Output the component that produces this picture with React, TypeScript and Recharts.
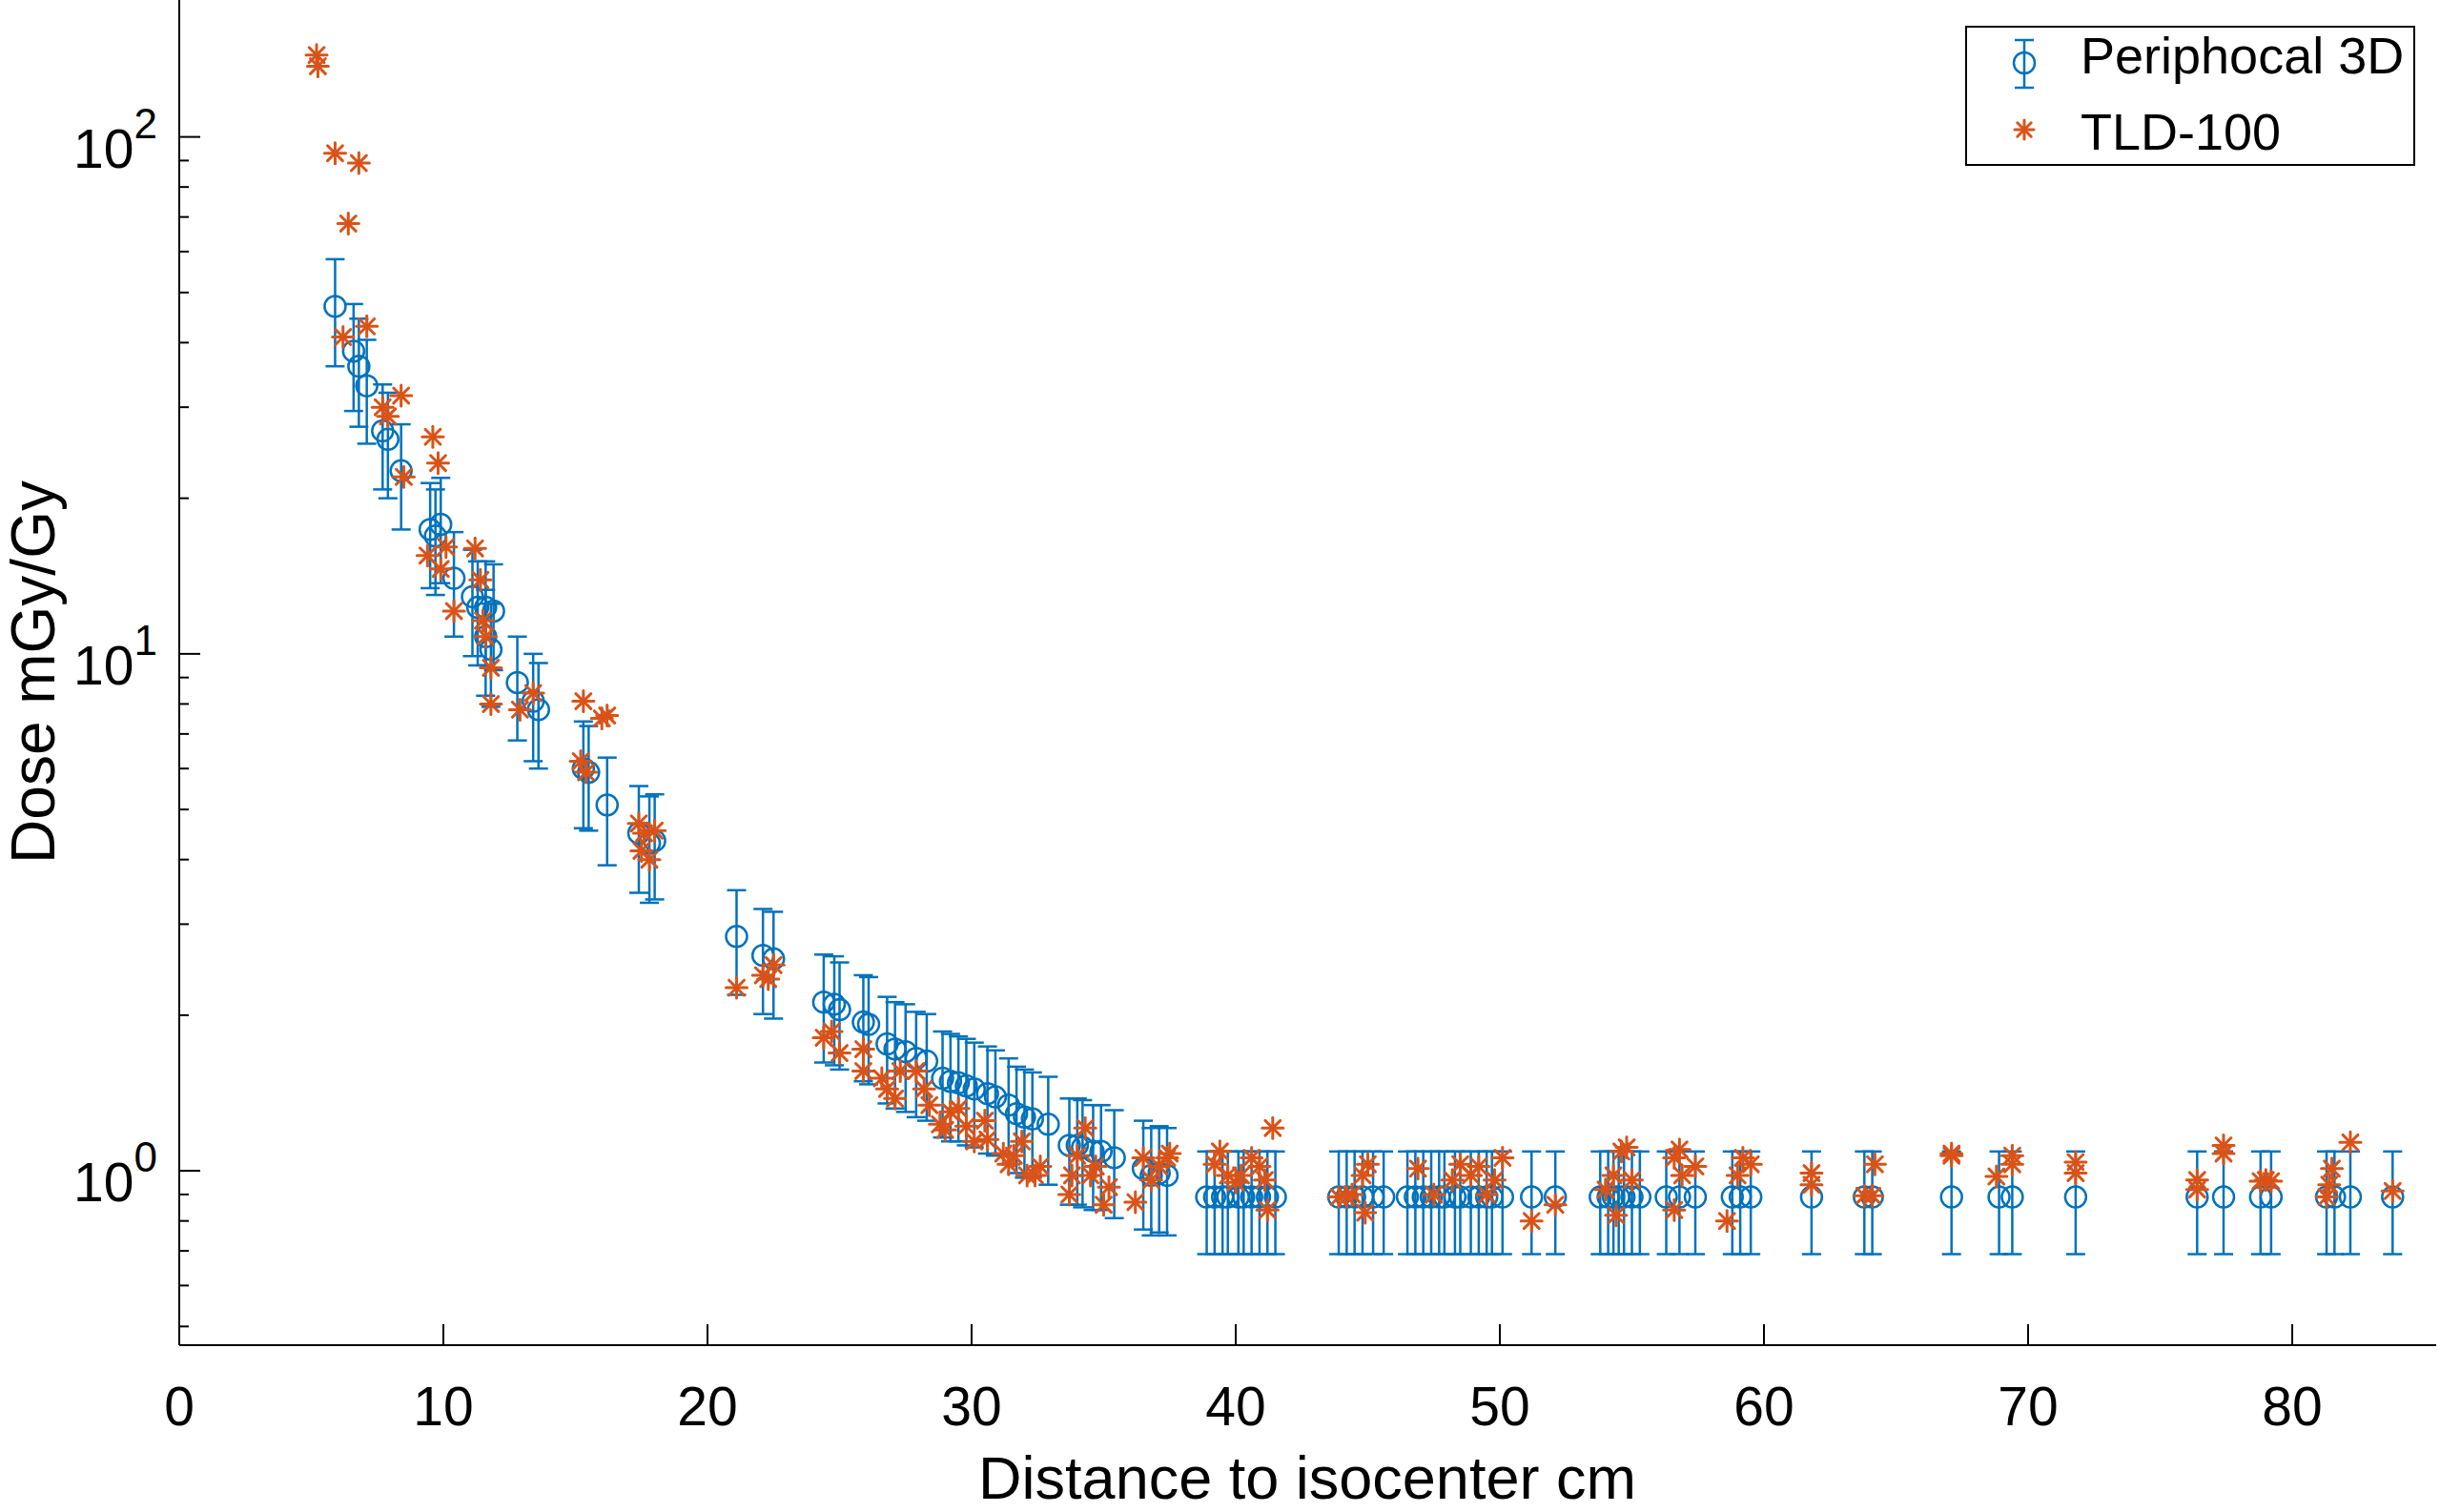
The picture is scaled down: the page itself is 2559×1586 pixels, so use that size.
import { ErrorBar, Scatter, ScatterChart, XAxis, YAxis } from "recharts";

// [distance cm, dose mGy/Gy, error]
const periphocal: [number, number, number][] = [
  [5.9, 47, 11], [6.6, 38.5, 9], [6.8, 36, 8.5], [7.1, 33, 7.5], [7.7, 27, 6.2],
  [7.9, 26, 6], [8.4, 22.6, 5.2], [9.5, 17.4, 4], [9.7, 16.9, 3.9], [9.9, 17.8, 4.1],
  [10.4, 14, 3.2], [11.1, 12.9, 3], [11.3, 12.3, 2.8], [11.6, 12.3, 2.8], [11.9, 12.1, 2.8],
  [11.6, 10.8, 2.5], [11.8, 10.2, 2.3], [12.8, 8.8, 2], [13.4, 8.1, 1.9], [13.6, 7.8, 1.8],
  [15.3, 6.0, 1.4], [15.5, 5.9, 1.35], [16.2, 5.1, 1.2], [17.4, 4.5, 1.05], [17.8, 4.3, 1],
  [18.0, 4.35, 1], [21.1, 2.84, 0.65], [22.1, 2.61, 0.6], [22.5, 2.57, 0.6], [24.4, 2.12, 0.5],
  [24.8, 2.1, 0.5], [25.0, 2.05, 0.48], [25.9, 1.94, 0.45], [26.1, 1.92, 0.45], [26.8, 1.76, 0.41],
  [27.1, 1.72, 0.4], [27.5, 1.7, 0.4], [27.9, 1.65, 0.38], [28.3, 1.63, 0.38], [28.9, 1.51, 0.35],
  [29.2, 1.49, 0.35], [29.5, 1.48, 0.34], [29.8, 1.46, 0.34], [30.1, 1.44, 0.33], [30.6, 1.41, 0.33],
  [30.9, 1.39, 0.32], [31.4, 1.34, 0.31], [31.7, 1.29, 0.3], [32.0, 1.27, 0.3], [32.3, 1.26, 0.29],
  [32.9, 1.23, 0.29], [33.7, 1.12, 0.26], [34.0, 1.12, 0.26], [34.2, 1.11, 0.26], [34.6, 1.09, 0.25],
  [34.9, 1.09, 0.25], [35.4, 1.06, 0.25], [36.5, 1.01, 0.24], [36.8, 0.98, 0.23], [37.1, 0.99, 0.23],
  [37.4, 0.98, 0.23],
  [38.9, 0.89, 0.2], [39.2, 0.89, 0.2], [39.5, 0.89, 0.2], [39.7, 0.89, 0.2], [40.1, 0.89, 0.2],
  [40.3, 0.89, 0.2], [40.6, 0.89, 0.2], [40.9, 0.89, 0.2], [41.2, 0.89, 0.2], [41.5, 0.89, 0.2],
  [43.9, 0.89, 0.2], [44.2, 0.89, 0.2], [44.5, 0.89, 0.2], [44.8, 0.89, 0.2], [45.2, 0.89, 0.2],
  [45.6, 0.89, 0.2], [46.5, 0.89, 0.2], [46.8, 0.89, 0.2], [47.1, 0.89, 0.2], [47.4, 0.89, 0.2],
  [47.7, 0.89, 0.2], [47.9, 0.89, 0.2], [48.3, 0.89, 0.2], [48.5, 0.89, 0.2], [48.9, 0.89, 0.2],
  [49.2, 0.89, 0.2], [49.5, 0.89, 0.2], [49.7, 0.89, 0.2], [50.1, 0.89, 0.2], [51.2, 0.89, 0.2],
  [52.1, 0.89, 0.2], [53.8, 0.89, 0.2], [54.1, 0.89, 0.2], [54.3, 0.89, 0.2], [54.5, 0.89, 0.2],
  [54.7, 0.89, 0.2], [55.0, 0.89, 0.2], [55.3, 0.89, 0.2], [56.3, 0.89, 0.2], [56.8, 0.89, 0.2],
  [57.4, 0.89, 0.2], [58.8, 0.89, 0.2], [59.1, 0.89, 0.2], [59.5, 0.89, 0.2], [61.8, 0.89, 0.2],
  [63.8, 0.89, 0.2], [64.1, 0.89, 0.2], [67.1, 0.89, 0.2], [68.9, 0.89, 0.2], [69.4, 0.89, 0.2],
  [71.8, 0.89, 0.2], [76.4, 0.89, 0.2], [77.4, 0.89, 0.2], [78.8, 0.89, 0.2], [79.2, 0.89, 0.2],
  [81.3, 0.89, 0.2], [81.6, 0.89, 0.2], [82.2, 0.89, 0.2], [83.8, 0.89, 0.2],
];

// [distance cm, dose mGy/Gy]
const tld100: [number, number][] = [
  [5.2, 144], [5.25, 137], [5.9, 93], [6.8, 89], [6.4, 68], [6.2, 41], [7.1, 43],
  [7.7, 30], [7.9, 28.8], [8.4, 31.6], [8.5, 22], [9.6, 26.3], [9.8, 23.4], [9.4, 15.5],
  [10.1, 16.1], [9.9, 14.6], [10.4, 12.1], [11.2, 16], [11.4, 13.9], [11.5, 11.6], [11.6, 10.8],
  [11.8, 9.4], [11.8, 8.0], [12.9, 7.8], [13.4, 8.4], [15.3, 8.1], [15.2, 6.2], [15.4, 5.9],
  [16.0, 7.5], [16.2, 7.6], [17.4, 4.7], [17.6, 4.5], [17.5, 4.16], [17.8, 4.0], [18.0, 4.55],
  [21.1, 2.26], [22.1, 2.39], [22.3, 2.35], [22.5, 2.5], [24.4, 1.81], [24.7, 1.86], [25.0, 1.69],
  [25.9, 1.56], [25.9, 1.72], [26.6, 1.51], [26.8, 1.44], [27.1, 1.38], [27.3, 1.56], [27.9, 1.56],
  [28.2, 1.44], [28.4, 1.34], [28.8, 1.23], [29.0, 1.2], [29.2, 1.3], [29.5, 1.32], [29.8, 1.22],
  [30.1, 1.14], [30.5, 1.25], [30.6, 1.15], [31.2, 1.08], [31.4, 1.03], [31.6, 1.07], [31.9, 1.14],
  [32.1, 0.98], [32.4, 0.98], [32.6, 1.02], [33.7, 0.9], [33.8, 0.98], [34.0, 1.07], [34.3, 1.21],
  [34.5, 0.98], [34.7, 1.02], [35.0, 0.86], [35.2, 0.93], [36.2, 0.87], [36.5, 1.06], [36.8, 0.96],
  [37.1, 1.02], [37.4, 1.06], [37.5, 1.08], [39.2, 1.03], [39.4, 1.09], [39.7, 0.98], [40.0, 0.95],
  [40.2, 0.98], [40.6, 1.06], [40.9, 1.02], [41.1, 0.96], [41.4, 1.21], [41.2, 0.84], [43.9, 0.89],
  [44.2, 0.89], [44.4, 0.9], [44.8, 0.98], [45.0, 1.03], [44.9, 0.83], [46.9, 1.01], [47.5, 0.9],
  [48.2, 0.96], [48.5, 1.03], [48.9, 0.98], [49.2, 1.02], [49.5, 0.9], [49.8, 0.96], [50.1, 1.06],
  [51.2, 0.8], [52.1, 0.86], [54.0, 0.92], [54.3, 0.98], [54.6, 1.09], [54.8, 1.11], [54.4, 0.82],
  [55.0, 0.96], [56.6, 1.06], [56.8, 1.1], [56.9, 0.98], [56.6, 0.84], [57.4, 1.02], [58.6, 0.8],
  [59.0, 0.98], [59.2, 1.06], [59.5, 1.03], [61.8, 0.99], [61.8, 0.94], [63.8, 0.895], [64.1, 0.895],
  [64.2, 1.03], [67.1, 1.07], [67.1, 1.08], [68.8, 0.975], [69.4, 1.03], [69.4, 1.07], [71.8, 1.04],
  [71.8, 0.99], [76.4, 0.96], [76.4, 0.92], [77.4, 1.12], [77.4, 1.08], [78.8, 0.955], [79.0, 0.96],
  [79.2, 0.955], [81.5, 1.01], [81.4, 0.94], [81.3, 0.89], [82.2, 1.135], [83.8, 0.914],
];

const xTicks = [0, 10, 20, 30, 40, 50, 60, 70, 80];
const yTicks = [
  0.5, 0.6, 0.7, 0.8, 0.9, 1, 2, 3, 4, 5, 6, 7, 8, 9, 10,
  20, 30, 40, 50, 60, 70, 80, 90, 100,
];
const yMajor = [1, 10, 100];

const BLUE = "#0072BD";
const ORANGE = "#D95319";
const FONT = "'Liberation Sans', Arial, Helvetica, sans-serif";

const W = 2559;
const H = 1586;
const AXIS_X = 188;
const AXIS_Y = 1411;

const periphocalData = periphocal.map(([d, dose, err]) => ({ d, dose, err }));
const tldData = tld100.map(([d, dose]) => ({ d, dose }));

const Star = ({ cx, cy, r = 11 }: { cx: number; cy: number; r?: number }) => {
  const k = r * 0.72;
  return (
    <g stroke={ORANGE} strokeWidth={3} strokeLinecap="round">
      <line x1={cx - r} y1={cy} x2={cx + r} y2={cy} />
      <line x1={cx} y1={cy - r} x2={cx} y2={cy + r} />
      <line x1={cx - k} y1={cy - k} x2={cx + k} y2={cy + k} />
      <line x1={cx - k} y1={cy + k} x2={cx + k} y2={cy - k} />
    </g>
  );
};

const Ring = (props: any) => (
  <circle cx={props.cx} cy={props.cy} r={11} fill="none" stroke={BLUE} strokeWidth={2.5} />
);

const YTick = (props: any) => {
  const { y, payload } = props;
  const v = payload.value;
  const major = yMajor.includes(v);
  return (
    <g>
      <line x1={AXIS_X} y1={y} x2={AXIS_X + (major ? 22 : 10)} y2={y} stroke="#000" strokeWidth={2} />
      {major && (
        <text x={165} y={y + 32} textAnchor="end" fontSize={57} fontFamily={FONT} fill="#000">
          10
          <tspan fontSize={44} dy={-31}>
            {Math.round(Math.log10(v))}
          </tspan>
        </text>
      )}
    </g>
  );
};

const XTick = (props: any) => {
  const { x, payload } = props;
  return (
    <g>
      <line x1={x} y1={AXIS_Y} x2={x} y2={AXIS_Y - 22} stroke="#000" strokeWidth={2} />
      <text x={x} y={AXIS_Y + 84} textAnchor="middle" fontSize={57} fontFamily={FONT} fill="#000">
        {payload.value}
      </text>
    </g>
  );
};

export default function App() {
  return (
    <div style={{ position: "absolute", left: 0, top: 0, width: W, height: H, background: "#fff" }}>
      <ScatterChart width={W} height={H} margin={{ top: 0, right: 4, bottom: 0, left: 0 }}>
        <XAxis
          type="number"
          dataKey="d"
          domain={[0, 85.45]}
          ticks={xTicks}
          allowDataOverflow
          height={175}
          tickLine={false}
          axisLine={{ stroke: "#000", strokeWidth: 2 }}
          tick={<XTick />}
        />
        <YAxis
          type="number"
          dataKey="dose"
          scale="log"
          domain={[0.46, 184]}
          ticks={yTicks}
          allowDataOverflow
          width={AXIS_X}
          tickLine={false}
          axisLine={{ stroke: "#000", strokeWidth: 2 }}
          tick={<YTick />}
          interval={0}
        />
        <Scatter data={periphocalData} shape={<Ring />} isAnimationActive={false}>
          <ErrorBar dataKey="err" direction="y" width={10} stroke={BLUE} strokeWidth={2.5} />
        </Scatter>
        <Scatter
          data={tldData}
          shape={(p: any) => <Star cx={p.cx} cy={p.cy} />}
          isAnimationActive={false}
        />
      </ScatterChart>
      <svg
        width={W}
        height={H}
        style={{ position: "absolute", left: 0, top: 0, pointerEvents: "none" }}
      >
        <text x={1371} y={1572} textAnchor="middle" fontSize={63} fontFamily={FONT} fill="#000">
          Distance to isocenter cm
        </text>
        <text
          transform="translate(57 705) rotate(-90)"
          textAnchor="middle"
          fontSize={64}
          fontFamily={FONT}
          fill="#000"
        >
          Dose mGy/Gy
        </text>
        <rect x={2062} y={28} width={470} height={145} fill="#fff" stroke="#000" strokeWidth={2} />
        <g stroke={BLUE} strokeWidth={2.5}>
          <line x1={2123} y1={42} x2={2123} y2={92} />
          <line x1={2113} y1={42} x2={2133} y2={42} />
          <line x1={2113} y1={92} x2={2133} y2={92} />
          <circle cx={2123} cy={66} r={11} fill="none" />
        </g>
        <text x={2182} y={77} fontSize={54} fontFamily={FONT} fill="#000">
          Periphocal 3D
        </text>
        <Star cx={2123} cy={136} r={10} />
        <text x={2182} y={157} fontSize={54} fontFamily={FONT} fill="#000">
          TLD-100
        </text>
      </svg>
    </div>
  );
}
